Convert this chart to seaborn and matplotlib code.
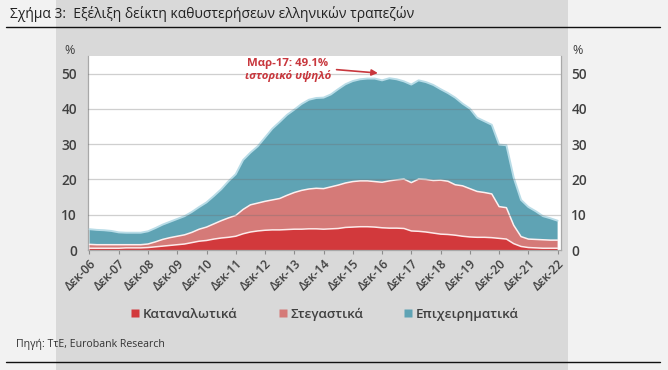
import numpy as np
import pandas as pd
import seaborn as sns
import matplotlib
matplotlib.use("Agg")
import matplotlib.pyplot as plt
from matplotlib.lines import Line2D
from matplotlib.patches import Rectangle

# ---------------- data (quarterly, Dec-06 .. Dec-22) ----------------
tick_labels = ["Δεκ-06", "Δεκ-07", "Δεκ-08", "Δεκ-09", "Δεκ-10", "Δεκ-11", "Δεκ-12",
               "Δεκ-13", "Δεκ-14", "Δεκ-15", "Δεκ-16", "Δεκ-17", "Δεκ-18", "Δεκ-19",
               "Δεκ-20", "Δεκ-21", "Δεκ-22"]
series_names = ["Καταναλωτικά", "Στεγαστικά", "Επιχειρηματικά"]

consumer = [0.5, 0.5, 0.5, 0.5, 0.5, 0.6, 0.6, 0.6, 0.7, 0.9, 1.1, 1.3, 1.5, 1.7, 2.1, 2.5,
            2.7, 3.1, 3.4, 3.6, 3.9, 4.6, 5.1, 5.4, 5.6, 5.7, 5.7, 5.8, 5.9, 5.9, 6.0, 6.0,
            5.9, 6.0, 6.1, 6.4, 6.5, 6.6, 6.6, 6.5, 6.3, 6.2, 6.2, 6.1, 5.4, 5.3, 5.1, 4.8,
            4.5, 4.4, 4.2, 3.9, 3.7, 3.6, 3.6, 3.5, 3.3, 3.1, 1.8, 1.0, 0.7, 0.6, 0.5, 0.5,
            0.5]
mortgage = [1.1, 1.0, 1.0, 1.0, 1.0, 0.9, 0.9, 0.9, 1.0, 1.4, 1.9, 2.2, 2.4, 2.6, 2.9, 3.4,
            3.8, 4.3, 4.9, 5.5, 5.9, 6.9, 7.7, 7.9, 8.2, 8.5, 8.9, 9.7, 10.4, 11.0, 11.3, 11.5,
            11.5, 11.9, 12.3, 12.6, 12.9, 13.0, 13.0, 12.9, 12.9, 13.4, 13.7, 14.0, 13.7, 14.8, 14.9, 14.9,
            15.3, 15.1, 14.3, 14.3, 13.7, 13.0, 12.7, 12.4, 9.0, 8.9, 5.2, 2.8, 2.4, 2.4, 2.4, 2.3,
            2.3]
business = [4.3, 4.2, 4.1, 3.9, 3.5, 3.4, 3.4, 3.4, 3.6, 3.9, 4.2, 4.5, 4.9, 5.3, 5.8, 6.3,
            7.0, 7.9, 8.9, 10.4, 11.7, 14.0, 14.8, 16.1, 18.1, 20.2, 21.7, 22.8, 23.5, 24.5, 25.3, 25.6,
            25.8, 26.2, 27.2, 28.0, 28.5, 28.8, 29.0, 29.2, 28.9, 29.1, 28.5, 27.7, 27.8, 28.0, 27.6, 27.1,
            25.8, 25.0, 24.7, 23.3, 22.7, 20.9, 20.2, 19.6, 17.6, 17.7, 13.5, 10.4, 9.1, 8.0, 6.7, 6.2,
            5.5]
peak_label = "Μαρ-17: 49.1%"
peak_note = "ιστορικό υψηλό"

df = pd.DataFrame({"t": np.arange(len(consumer)) / 4.0,
                   series_names[0]: consumer,
                   series_names[1]: mortgage,
                   series_names[2]: business})

# ---------------- style ----------------
sns.set_theme(style="white")
plt.rcParams["font.family"] = ["Open Sans", "DejaVu Sans"]

colors = ["#d2393c", "#d57a78", "#5fa3b4"]
txt = "#404040"

fig = plt.figure(figsize=(6.68, 3.70), dpi=100, facecolor="#f2f2f2")
W, H = 668.0, 370.0
# darker panel behind the chart
fig.patches.append(Rectangle((56 / W, 0), (568 - 56) / W, 1, transform=fig.transFigure,
                             facecolor="#d9d9d9", edgecolor="none", zorder=-10))

ax = fig.add_axes([88 / W, 1 - 250 / H, (561 - 88) / W, (250 - 56) / H])
ax.set_facecolor("white")

ax.stackplot(df["t"], df[series_names[0]], df[series_names[1]], df[series_names[2]],
             colors=colors, edgecolor="none", zorder=2)
cum1 = df[series_names[0]]
cum2 = cum1 + df[series_names[1]]
cum3 = cum2 + df[series_names[2]]
sns.lineplot(x=df["t"], y=cum1, ax=ax, color="#fdeaea", lw=1.1, zorder=3)
sns.lineplot(x=df["t"], y=cum2, ax=ax, color="#fdf0f0", lw=1.1, zorder=3)
sns.lineplot(x=df["t"], y=cum3, ax=ax, color="#b8dce7", lw=1.4, zorder=3)

ax.set_xlim(-0.051, 16.116)
ax.set_ylim(0, 55)
ax.set_xlabel("")
ax.set_ylabel("")

ax.set_yticks([0, 10, 20, 30, 40, 50])
for yv in [10, 20, 30, 40, 50]:
    ax.axhline(yv, color="#6f6f6f", alpha=0.33, lw=0.9, zorder=4)

ax.set_xticks(np.arange(len(tick_labels)))
ax.set_xticklabels(tick_labels, rotation=45, ha="right", rotation_mode="anchor",
                   fontsize=8.7, color=txt, fontweight="semibold")
ax.tick_params(axis="x", length=3, width=0.8, color="#8c8c8c", pad=2, direction="out", bottom=True)
ax.tick_params(axis="y", length=0, labelsize=9.8, labelcolor=txt, pad=8)
for lb in ax.get_yticklabels():
    lb.set_fontweight("semibold")

ax.spines["top"].set_visible(False)
for s in ["left", "right", "bottom"]:
    ax.spines[s].set_color("#a8a8a8")
    ax.spines[s].set_linewidth(0.9)

ax2 = ax.twinx()
ax2.set_ylim(0, 55)
ax2.set_yticks([0, 10, 20, 30, 40, 50])
ax2.tick_params(axis="y", length=0, labelsize=9.8, labelcolor=txt, pad=7.5)
for lb in ax2.get_yticklabels():
    lb.set_fontweight("semibold")
for s in ax2.spines.values():
    s.set_visible(False)
ax2.grid(False)

fig.text(70 / W, 1 - 50 / H, "%", fontsize=9, color=txt, ha="center", va="center")
fig.text(578 / W, 1 - 50 / H, "%", fontsize=9, color=txt, ha="center", va="center")

# annotation
red = "#c8373d"
ax.text(6.78, 52.9, peak_label, color=red, fontsize=8.2, fontweight="bold",
        ha="center", va="center", zorder=6)
ax.text(6.78, 49.3, peak_note, color=red, fontsize=8.2, fontweight="bold", style="italic",
        ha="center", va="center", zorder=6)
ax.annotate("", xy=(9.95, 50.1), xytext=(8.35, 51.2),
            arrowprops=dict(arrowstyle="-|>", color=red, lw=1.2, mutation_scale=9), zorder=6)

# title, source, rules
fig.text(10 / W, 1 - 14 / H, "Σχήμα 3:  Εξέλιξη δείκτη καθυστερήσεων ελληνικών τραπεζών",
         fontsize=10, color="#222222", ha="left", va="center")
fig.add_artist(Line2D([6 / W, 660 / W], [1 - 27 / H, 1 - 27 / H], color="#111111", lw=1.0,
                      transform=fig.transFigure))
fig.text(16 / W, 1 - 344 / H, "Πηγή: ΤτΕ, Eurobank Research", fontsize=7.6, color="#333333",
         ha="left", va="center")
fig.add_artist(Line2D([6 / W, 660 / W], [1 - 362 / H, 1 - 362 / H], color="#111111", lw=1.0,
                      transform=fig.transFigure))

# legend
handles = [Line2D([0], [0], marker="s", linestyle="none", markersize=5.5,
                  markerfacecolor=c, markeredgecolor="none") for c in colors]
leg = fig.legend(handles, series_names, loc="center", bbox_to_anchor=(325 / W, 1 - 314 / H),
                 ncol=3, frameon=False, handlelength=0.6, handletextpad=0.25,
                 columnspacing=3.1, fontsize=9.6)
for t in leg.get_texts():
    t.set_color(txt)
    t.set_fontweight("semibold")

fig.savefig("out.png", dpi=100, facecolor=fig.get_facecolor())
